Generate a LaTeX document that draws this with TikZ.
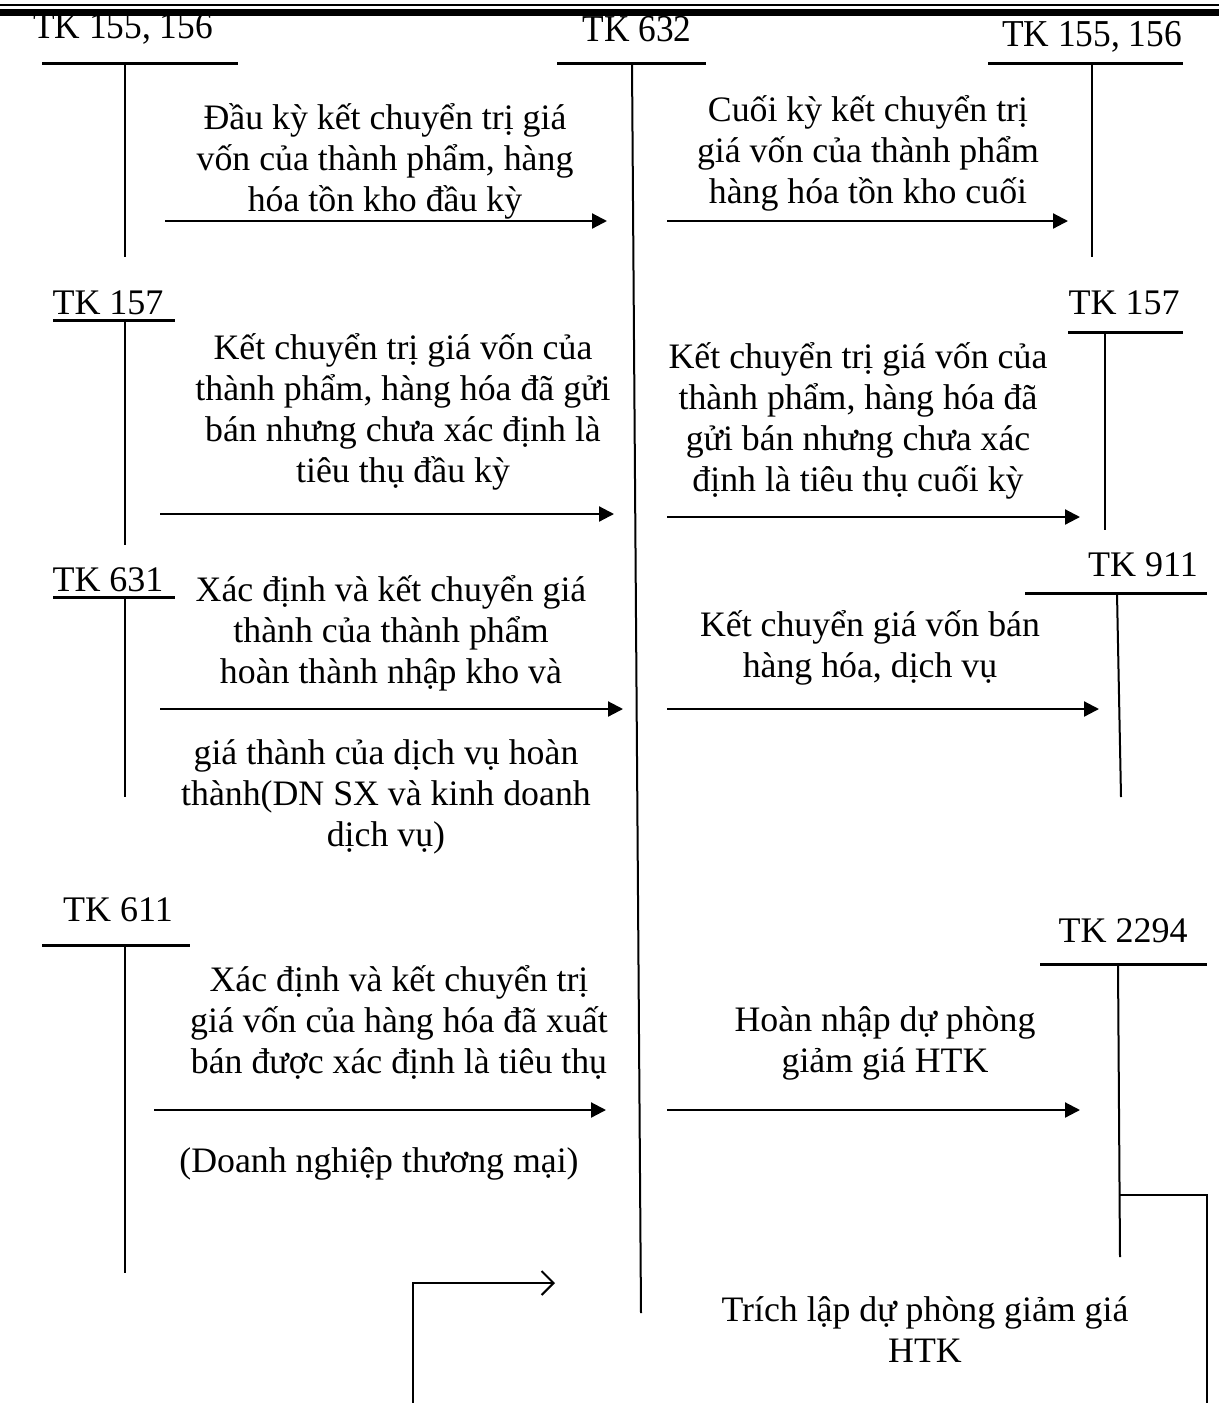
\documentclass[tikz,border=0pt]{standalone}
\usepackage{fontspec}
\setmainfont{Liberation Serif}
\usetikzlibrary{arrows.meta}
\begin{document}
\begin{tikzpicture}[x=1pt,y=-1pt,
  txt/.style={align=center, inner sep=0pt, font=\fontsize{35.8}{41}\selectfont},
  lbl/.style={inner sep=0pt, font=\fontsize{36}{41}\selectfont},
  toplbl/.style={inner sep=0pt, font=\fontsize{38}{41}\selectfont, xscale=0.93},
  hbar/.style={line width=3pt},
  vbar/.style={line width=2pt},
  flow/.style={line width=2.2pt, -{Triangle[length=15pt,width=15pt]}},
  openflow/.style={line width=2pt, -{Straight Barb[length=12pt,width=24pt]}},
  link/.style={line width=2pt},
]
\useasboundingbox (0,0) rectangle (1219,1403);
% top double rule
\fill (0,3.5) rectangle (1219,6);
\fill (0,9) rectangle (1219,16);

% ---------- account labels ----------
\node[toplbl] (tk155a) at (123,29) {TK 155, 156};
\node[toplbl] (tk632) at (637,29) {TK 632};
\node[toplbl] (tk155b) at (1092,37) {TK 155, 156};
\node[lbl] (tk157a) at (108,303) {TK 157};
\node[lbl] (tk157b) at (1124,303) {TK 157};
\node[lbl] (tk631) at (108,580) {TK 631};
\node[lbl] (tk911) at (1143,565) {TK 911};
\node[lbl] (tk611) at (118,910) {TK 611};
\node[lbl] (tk2294) at (1123,931) {TK 2294};

% ---------- T-account lines ----------
\coordinate (a1l) at (42,63);   \coordinate (a1r) at (238,63);
\coordinate (a1t) at (125,63);  \coordinate (a1b) at (125,257);
\coordinate (m1l) at (557,63);  \coordinate (m1r) at (706,63);
\coordinate (m1t) at (632,63);  \coordinate (m1b) at (641,1313);
\coordinate (b1l) at (988,63);  \coordinate (b1r) at (1183,63);
\coordinate (b1t) at (1092,63); \coordinate (b1b) at (1092,257);

\coordinate (a2l) at (53,320);  \coordinate (a2r) at (175,320);
\coordinate (a2t) at (125,320); \coordinate (a2b) at (125,545);
\coordinate (b2l) at (1068,332); \coordinate (b2r) at (1183,332);
\coordinate (b2t) at (1105,332); \coordinate (b2b) at (1105,530);

\coordinate (a3l) at (53,597);  \coordinate (a3r) at (175,597);
\coordinate (a3t) at (125,597); \coordinate (a3b) at (125,797);
\coordinate (b3l) at (1025,593); \coordinate (b3r) at (1207,593);
\coordinate (b3t) at (1117,593); \coordinate (b3b) at (1121,797);

\coordinate (a4l) at (42,945);  \coordinate (a4r) at (190,945);
\coordinate (a4t) at (125,945); \coordinate (a4b) at (125,1273);
\coordinate (b4l) at (1040,964); \coordinate (b4r) at (1207,964);
\coordinate (b4t) at (1118,964); \coordinate (b4b) at (1120,1257);

\foreach \k in {a1,m1,b1,a2,b2,a3,b3,a4,b4}{
  \draw[hbar] (\k l) -- (\k r);
  \draw[vbar] (\k t) -- (\k b);
}

% ---------- descriptions ----------
\node[txt] (d1) at (385,161) {Đầu kỳ kết chuyển trị giá\\vốn của thành phẩm, hàng\\hóa tồn kho đầu kỳ};
\node[txt] (d2) at (868,153) {Cuối kỳ kết chuyển trị\\giá vốn của thành phẩm\\hàng hóa tồn kho cuối};
\node[txt] (d3) at (403,412) {Kết chuyển trị giá vốn của\\thành phẩm, hàng hóa đã gửi\\bán nhưng chưa xác định là\\tiêu thụ đầu kỳ};
\node[txt] (d4) at (858,421) {Kết chuyển trị giá vốn của\\thành phẩm, hàng hóa đã\\gửi bán nhưng chưa xác\\định là tiêu thụ cuối kỳ};
\node[txt] (d5) at (391,633) {Xác định và kết chuyển giá\\thành của thành phẩm\\hoàn thành nhập kho và};
\node[txt] (d6) at (386,797) {giá thành của dịch vụ hoàn\\thành(DN SX và kinh doanh\\dịch vụ)};
\node[txt] (d7) at (870,648) {Kết chuyển giá vốn bán\\hàng hóa, dịch vụ};
\node[txt] (d8) at (399,1022) {Xác định và kết chuyển trị\\giá vốn của hàng hóa đã xuất\\bán được xác định là tiêu thụ};
\node[txt] (d9) at (379,1164) {(Doanh nghiệp thương mại)};
\node[txt] (d10) at (885,1043) {Hoàn nhập dự phòng\\giảm giá HTK};
\node[txt] (d11) at (925,1330) {Trích lập dự phòng giảm giá\\HTK};

% ---------- flows ----------
\coordinate (f1s) at (165,221);  \coordinate (f1e) at (607,221);
\coordinate (f2s) at (667,221);  \coordinate (f2e) at (1068,221);
\coordinate (f3s) at (160,514);  \coordinate (f3e) at (614,514);
\coordinate (f4s) at (667,517);  \coordinate (f4e) at (1080,517);
\coordinate (f5s) at (160,709);  \coordinate (f5e) at (623,709);
\coordinate (f6s) at (667,709);  \coordinate (f6e) at (1099,709);
\coordinate (f7s) at (154,1110); \coordinate (f7e) at (606,1110);
\coordinate (f8s) at (667,1110); \coordinate (f8e) at (1080,1110);
\foreach \k in {1,...,8}{ \draw[flow] (f\k s) -- (f\k e); }

% ---------- provision loop (cut at bottom edge) ----------
\coordinate (p1) at (1120,1195);
\coordinate (p2) at (1207,1195);
\coordinate (p3) at (1207,1403);
\coordinate (q1) at (413,1403);
\coordinate (q2) at (413,1283);
\coordinate (q3) at (555,1283);
\draw[link] (p1) -- (p2) -- (p3);
\draw[openflow] (q1) -- (q2) -- (q3);
\end{tikzpicture}
\end{document}
